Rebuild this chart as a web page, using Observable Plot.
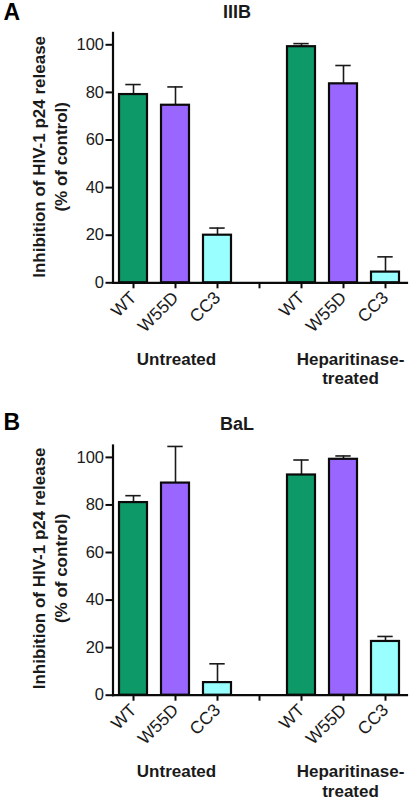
<!DOCTYPE html>
<html>
<head>
<meta charset="utf-8">
<script src="https://cdn.jsdelivr.net/npm/d3@7"></script>
<script src="https://cdn.jsdelivr.net/npm/@observablehq/plot@0.6"></script>
<style>
html,body{margin:0;padding:0;background:#fff}
svg{display:block}
</style>
</head>
<body>
<div id="chart"></div>
<script>
const slots = ["uWT", "uW55D", "uCC3", "gap", "hWT", "hW55D", "hCC3"];
const slotLabels = ["WT", "W55D", "CC3", "", "WT", "W55D", "CC3"];
const barSlots = ["uWT", "uW55D", "uCC3", "hWT", "hW55D", "hCC3"];
const barTypes = ["WT", "W55D", "CC3", "WT", "W55D", "CC3"];
const typeNames = ["WT", "W55D", "CC3"];
const typeColors = ["#0e9a68", "#9966ff", "#99ffff"];
const valuesA = [79.1, 74.6, 20, 99.2, 83.6, 4.5];
const upperA = [83.3, 82.3, 23, 100.5, 91.3, 10.9];
const valuesB = [81, 89.2, 5.3, 92.6, 99.2, 22.6];
const upperB = [83.9, 104.6, 13.2, 98.9, 100.6, 24.7];
const yTicks = [0, 20, 40, 60, 80, 100];
const yLabel = "Inhibition of HIV-1 p24 release\n(% of control)";
const font = "Liberation Sans";
const ink = "#1a1a1a";

function panel({letter, title, values, upper, marginTop, marginBottom, letterDy, titleDy, labelDy}) {
  const rows = barSlots.map((slot, i) => ({slot, type: barTypes[i], v: values[i], hi: upper[i]}));
  const groupStyle = {y: () => 0, text: d => d, dy: 68, lineAnchor: "top", fontSize: 17, fontWeight: "bold", fill: ink, lineHeight: 1.15};
  return Plot.plot({
    width: 410,
    height: 400,
    marginLeft: 112.5,
    marginRight: 3.5,
    marginTop,
    marginBottom,
    style: {fontFamily: font, background: "#fff", overflow: "visible"},
    x: {domain: slots, paddingInner: 0.326, paddingOuter: 0.163, label: null, axis: null},
    y: {domain: [0, 105], label: null, axis: null},
    color: {domain: typeNames, range: typeColors},
    marks: [
      Plot.ruleX(rows, {x: "slot", y1: "v", y2: "hi", stroke: ink, strokeWidth: 1.6}),
      Plot.tickY(rows, {x: "slot", y: "hi", stroke: ink, strokeWidth: 1.6, insetLeft: 6.3, insetRight: 6.3}),
      Plot.barY(rows, {x: "slot", y1: 0, y2: "v", fill: "type", stroke: "#0a0a0a", strokeWidth: 2.2}),
      Plot.frame({anchor: "left", stroke: "#0a0a0a", strokeWidth: 2.2}),
      Plot.frame({anchor: "bottom", stroke: "#0a0a0a", strokeWidth: 2.2}),
      Plot.axisY({ticks: yTicks, tickSize: 7, tickPadding: 2, fontSize: 16.5, strokeWidth: 2, stroke: "#0a0a0a", fill: ink, label: null}),
      Plot.axisX({tickSize: 6, tickPadding: 6, fontSize: 17.5, strokeWidth: 2, stroke: "#0a0a0a", fill: ink, label: null,
        tickRotate: -45, tickFormat: d => slotLabels[slots.indexOf(d)]}),
      Plot.text(["Untreated"], {...groupStyle, x: () => "uW55D", dx: 1}),
      Plot.text(["Heparitinase-\ntreated"], {...groupStyle, x: () => "hW55D", dx: 7}),
      Plot.text([yLabel], {frameAnchor: "left", textAnchor: "middle", text: d => d, rotate: -90, dx: -64.5, dy: labelDy,
        fontSize: 17, fontWeight: "bold", fill: ink, lineHeight: 1.3}),
      Plot.text([title], {frameAnchor: "top", text: d => d, dx: -23, dy: titleDy, fontSize: 18, fontWeight: "bold", fill: ink}),
      Plot.text([letter], {frameAnchor: "top-left", text: d => d, dx: -109.5, dy: letterDy, fontSize: 23, fontWeight: "bold", fill: "#000", textAnchor: "start"})
    ]
  });
}

const host = document.getElementById("chart");
host.append(panel({letter: "A", title: "IIIB", values: valuesA, upper: upperA, marginTop: 32.4, marginBottom: 117.7, letterDy: -29, titleDy: -27.4, labelDy: -1}));
host.append(panel({letter: "B", title: "BaL", values: valuesB, upper: upperB, marginTop: 45, marginBottom: 105.3, letterDy: -31.5, titleDy: -28, labelDy: -2}));
</script>
</body>
</html>
